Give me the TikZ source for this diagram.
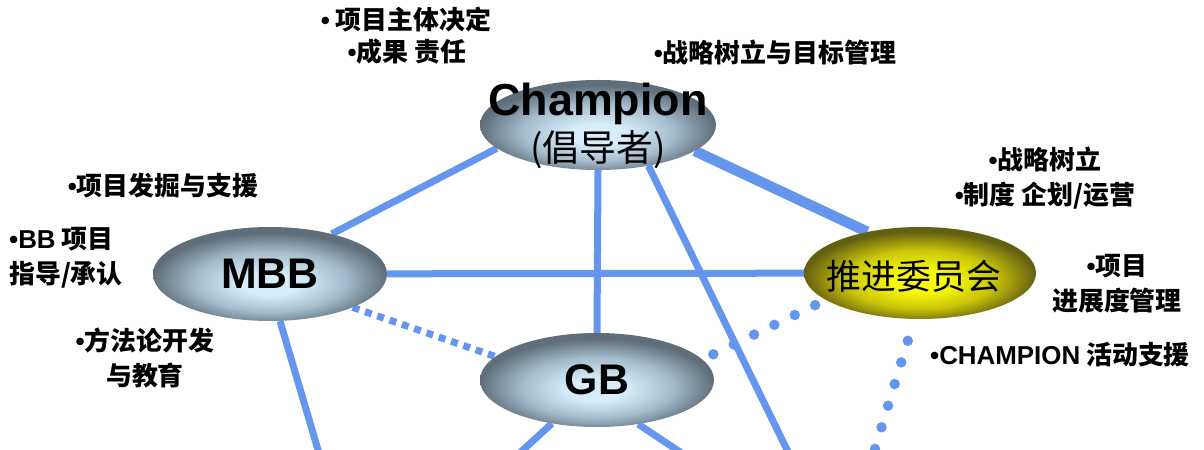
\documentclass[tikz,border=0pt]{standalone}
\usepackage{fontspec}
\setmainfont{Liberation Sans}
\newfontfamily\cjk{Noto Sans CJK SC}
\usetikzlibrary{shapes.geometric}
\definecolor{lblue}{RGB}{100,150,238}
\definecolor{bc}{RGB}{215,238,250}
\definecolor{bm}{RGB}{165,188,204}
\definecolor{be}{RGB}{96,110,122}
\definecolor{yc}{RGB}{250,250,10}
\definecolor{ym}{RGB}{200,196,8}
\definecolor{ye}{RGB}{100,96,18}
\pgfdeclareradialshading{bluesh}{\pgfpoint{0bp}{-6bp}}{color(0bp)=(bc); color(6bp)=(bc); color(16bp)=(bm); color(25bp)=(be); color(50bp)=(be)}
\pgfdeclareradialshading{yelsh}{\pgfpoint{0bp}{-5bp}}{color(0bp)=(yc); color(6bp)=(yc); color(16bp)=(ym); color(25bp)=(ye); color(50bp)=(ye)}
\pgfdeclarelayer{bg}
\pgfsetlayers{bg,main}
\newcommand\bt{{\normalfont\bfseries\char"2022}}
\tikzset{
  ell/.style={ellipse, minimum width=234bp, minimum height=94bp, inner sep=0pt, shading=bluesh},
  yell/.style={ell, shading=yelsh},
  latbig/.style={font=\bfseries\fontsize{43}{46}\selectfont},
  bul/.style={font=\cjk\bfseries\fontsize{26}{35}\selectfont, align=center, inner sep=0pt},
  ln/.style={draw=lblue, line width=7bp},
  sq/.style={draw=lblue, line width=7bp, dash pattern=on 7bp off 6bp},
  dotl/.style={draw=lblue, line width=10.5bp, line cap=round, dash pattern=on 0bp off 22.6bp}
}
\begin{document}
\begin{tikzpicture}[x=1bp,y=-1bp]
\useasboundingbox (0,0) rectangle (1204,450);
% ellipses
\node[ell, minimum width=236bp, minimum height=90bp] (champ) at (598,125) {};
\node[latbig, font=\bfseries\fontsize{45}{48}\selectfont, inner sep=0pt] (champa) at (598,104) {Champion};
\node[font=\cjk\fontsize{37}{40}\selectfont, inner sep=0pt] (champb) at (598,150) {(倡导者)};
\node[ell, latbig] (mbb) at (270,274) {MBB};
\node[yell, minimum width=232bp, minimum height=92bp] (tj) at (920,273) {};
\node[font=\cjk\fontsize{35}{38}\selectfont, inner sep=0pt] (tjt) at (914,276) {推进委员会};
\node[ell, latbig] (gb) at (597,380) {GB};
% free ends
\coordinate (cb) at (792,460);
\coordinate (mb) at (321,460);
\coordinate (gl) at (512,460);
\coordinate (gr) at (692,460);
\coordinate (dv) at (871,462);
% connectors
\begin{pgfonlayer}{bg}
\clip (0,0) rectangle (1204,450);
\draw[ln] (champ.-167) -- (mbb.33);
\draw[ln] (champ.south) -- (gb.north);
\draw[ln] (champ.-39) -- (cb);
\draw[ln, line width=10.5bp] (champ.-15) -- (tj.142);
\draw[ln] (mbb) -- (tj);
\draw[sq] (mbb.-22) -- (gb.167);
\draw[ln] (mbb.-78) -- (mb);
\draw[ln] (gb.-136) -- (gl);
\draw[ln] (gb.-47) -- (gr);
\draw[dotl, shorten <=12bp] (gb.11) -- (tj.-164);
\draw[dotl, shorten <=22.6bp] (tj.-97) -- (dv);
\end{pgfonlayer}
% labels
\node[bul] (t1) at (406,20) {\bt\ 项目主体决定};
\node[bul] (t2) at (407,52) {\bt 成果 责任};
\node[bul] (t3) at (775,52) {\bt 战略树立与目标管理};
\node[bul] (t4) at (163,186) {\bt 项目发掘与支援};
\node[bul, align=left, anchor=west] (t5) at (9,258) {{\normalfont\bfseries\char"2022 BB} 项目\\指导/承认};
\node[bul] (t6) at (145,358) {\bt 方法论开发\\与教育};
\node[bul] (t7) at (1045,178) {\bt 战略树立\\\bt 制度 企划/运营};
\node[bul] (t8) at (1117,284) {\bt 项目\\进展度管理};
\node[bul] (t9) at (1060,355) {{\normalfont\bfseries\char"2022 CHAMPION} 活动支援};
\end{tikzpicture}
\end{document}
